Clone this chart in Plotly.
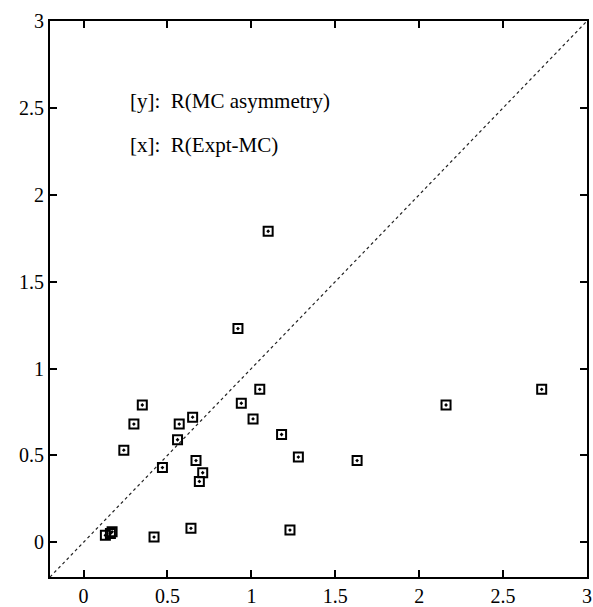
import plotly.graph_objects as go

# R(Expt-MC) on x, R(MC asymmetry) on y
x_vals = [0.35, 0.30, 0.57, 0.65, 0.56, 0.24, 0.47, 0.67, 0.71, 0.69,
          0.13, 0.16, 0.17, 0.42, 0.64, 1.05, 0.94, 1.01, 1.18, 1.28,
          1.23, 2.73, 2.16, 1.10, 0.92, 1.63]
y_vals = [0.79, 0.68, 0.68, 0.72, 0.59, 0.53, 0.43, 0.47, 0.40, 0.35,
          0.04, 0.05, 0.06, 0.03, 0.08, 0.88, 0.80, 0.71, 0.62, 0.49,
          0.07, 0.88, 0.79, 1.79, 1.23, 0.47]

axis_range = [-0.2, 3]
tick_vals = [0, 0.5, 1, 1.5, 2, 2.5, 3]
tick_text = ["0", "0.5", "1", "1.5", "2", "2.5", "3"]
label_y = "[y]:\u00a0\u00a0R(MC asymmetry)"
label_x = "[x]:\u00a0\u00a0R(Expt-MC)"

font_family = "Liberation Serif, Times New Roman, serif"

fig = go.Figure()
fig.add_trace(go.Scatter(
    x=axis_range, y=axis_range, mode="lines",
    line=dict(color="#222", width=1.2, dash="dot"),
    hoverinfo="skip", showlegend=False))
fig.add_trace(go.Scatter(
    x=x_vals, y=y_vals, mode="markers",
    marker=dict(symbol="square-dot", size=9, color="rgba(0,0,0,0)",
                line=dict(color="black", width=2)),
    showlegend=False))

axis_common = dict(
    range=axis_range, tickvals=tick_vals, ticktext=tick_text,
    ticks="inside", ticklen=7, tickwidth=1.5, tickcolor="black",
    showline=True, linecolor="black", linewidth=2, mirror="ticks",
    showgrid=False, zeroline=False, automargin=False,
    tickfont=dict(family=font_family, size=20, color="black"),
)
fig.update_xaxes(**axis_common)
fig.update_yaxes(**axis_common)

fig.add_annotation(x=0.266, y=2.54, xref="x", yref="y", text=label_y,
                   showarrow=False, xanchor="left", yanchor="middle",
                   font=dict(family=font_family, size=21, color="black"))
fig.add_annotation(x=0.266, y=2.285, xref="x", yref="y", text=label_x,
                   showarrow=False, xanchor="left", yanchor="middle",
                   font=dict(family=font_family, size=21, color="black"))

fig.update_layout(
    width=593, height=607,
    margin=dict(l=50, r=6, t=21, b=30, autoexpand=False),
    plot_bgcolor="white", paper_bgcolor="white",
)

fig.write_html("out.html",
               config={"displayModeBar": False},
               post_script="document.body.style.margin='0';"
                           "document.body.style.overflow='hidden';")
